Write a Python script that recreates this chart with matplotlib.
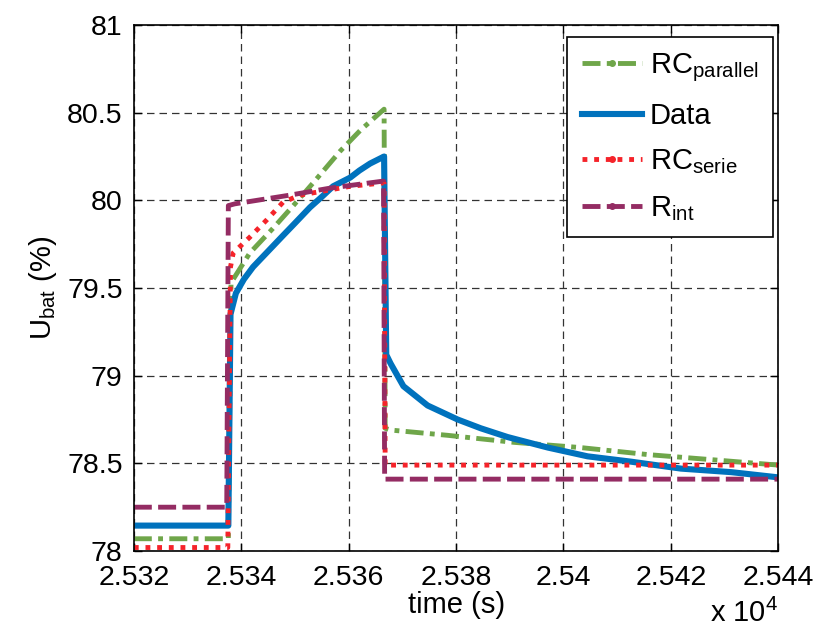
"""Battery voltage step response: measured data vs. three equivalent-circuit models."""
import matplotlib

matplotlib.use("Agg")
import matplotlib.pyplot as plt
from matplotlib.lines import Line2D
from matplotlib.ticker import FuncFormatter, MultipleLocator

plt.rcParams["font.family"] = ["Liberation Sans", "DejaVu Sans"]
plt.rcParams["mathtext.fontset"] = "custom"
plt.rcParams["mathtext.rm"] = "Liberation Sans"
plt.rcParams["mathtext.it"] = "Liberation Sans"

# measured battery voltage (time in s)
t_data = [25320, 25337.6, 25338.0, 25339.0, 25340.5, 25342.2, 25345.0, 25347.8,
          25350.0, 25352.8, 25355.0, 25357.1, 25360.3, 25362.0, 25364.0, 25366.6,
          25367.0, 25367.8, 25370.2, 25374.7, 25380.3, 25384.6, 25389.6, 25397.1,
          25404.5, 25412.5, 25421.9, 25431.2, 25440]
u_data = [78.145, 78.145, 79.35, 79.47, 79.55, 79.62, 79.71, 79.80,
          79.87, 79.96, 80.02, 80.08, 80.13, 80.17, 80.21, 80.25,
          79.12, 79.07, 78.94, 78.83, 78.75, 78.70, 78.65, 78.59,
          78.54, 78.51, 78.47, 78.45, 78.42]

# parallel RC model
t_par = [25320, 25337.6, 25338.1, 25341.6, 25345.9, 25349.7, 25353.4, 25358.4,
         25362.2, 25366.6, 25366.8, 25367.8, 25378.4, 25390.7, 25403.2, 25415.7,
         25428.0, 25440]
u_par = [78.07, 78.07, 79.53, 79.70, 79.84, 79.97, 80.10, 80.28,
         80.40, 80.52, 78.70, 78.69, 78.66, 78.62, 78.59, 78.55,
         78.52, 78.49]

# series RC model
t_ser = [25320, 25337.5, 25338.0, 25338.5, 25341.6, 25344.8, 25347.8, 25351.0,
         25354.7, 25360.3, 25366.6, 25366.8, 25440]
u_ser = [78.02, 78.02, 79.62, 79.70, 79.79, 79.89, 79.99, 80.03,
         80.05, 80.08, 80.10, 78.49, 78.49]

# internal resistance only
t_rint = [25320, 25337.3, 25337.6, 25338.8, 25349.1, 25356.6, 25366.5, 25366.7, 25440]
u_rint = [78.25, 78.25, 79.97, 79.98, 80.03, 80.07, 80.11, 78.41, 78.41]

c_par = "#6FA64A"
c_data = "#0072BD"
c_ser = "#F5232A"
c_rint = "#942C63"

ls_par = (0, (3.7, 1.3, 1.0, 1.3))
ls_ser = (0, (1.0, 1.4))
ls_rint = (0, (3.7, 1.3))

fig = plt.figure(figsize=(8.21, 6.33), dpi=100)
ax = fig.add_axes([0.163, 0.1295, 0.785, 0.831])

ax.plot(t_par, u_par, color=c_par, lw=3.5, ls=ls_par)
ax.plot(t_data, u_data, color=c_data, lw=4.4)
ax.plot(t_ser, u_ser, color=c_ser, lw=3.5, ls=ls_ser)
ax.plot(t_rint, u_rint, color=c_rint, lw=3.5, ls=ls_rint)

ax.set_xlim(25320, 25440)
ax.set_ylim(78, 81)
ax.xaxis.set_major_locator(MultipleLocator(20))
ax.yaxis.set_major_locator(MultipleLocator(0.5))
ax.xaxis.set_major_formatter(FuncFormatter(lambda v, p: f"{v / 1e4:g}"))
ax.yaxis.set_major_formatter(FuncFormatter(lambda v, p: f"{v:g}"))
ax.tick_params(direction="in", top=True, right=True, length=6, width=1,
               labelsize=20.5)
ax.tick_params(axis="x", pad=10)
ax.tick_params(axis="y", pad=8)
for s in ax.spines.values():
    s.set_linewidth(1.2)
ax.grid(True, color="#333333", ls=(0, (6, 4)), lw=0.9)
ax.set_axisbelow(True)

ax.set_xlabel("time (s)", fontsize=21, labelpad=0)
ax.set_ylabel(r"U$_{\mathrm{bat}}$ (%)", fontsize=21, labelpad=6)
fig.text(0.948, 0.008, r"x 10$^{4}$", fontsize=21, ha="right", va="bottom")

handles = [
    Line2D([], [], color=c_par, lw=3.5, ls=ls_par, marker="o", markersize=4),
    Line2D([], [], color=c_data, lw=4.4),
    Line2D([], [], color=c_ser, lw=3.5, ls=ls_ser, marker="o", markersize=4),
    Line2D([], [], color=c_rint, lw=3.5, ls=ls_rint, marker="o", markersize=4),
]
labels = [r"RC$_{\mathrm{parallel}}$", "Data", r"RC$_{\mathrm{serie}}$", r"R$_{\mathrm{int}}$"]
leg = ax.legend(handles, labels, loc="upper right", bbox_to_anchor=(0.992, 0.977),
                borderaxespad=0, fontsize=21, numpoints=1,
                handlelength=2.05, handletextpad=0.28, labelspacing=0.6,
                borderpad=0.5, fancybox=False, framealpha=1, edgecolor="black")
leg.get_frame().set_linewidth(1.2)

fig.savefig("out.png", dpi=100)
